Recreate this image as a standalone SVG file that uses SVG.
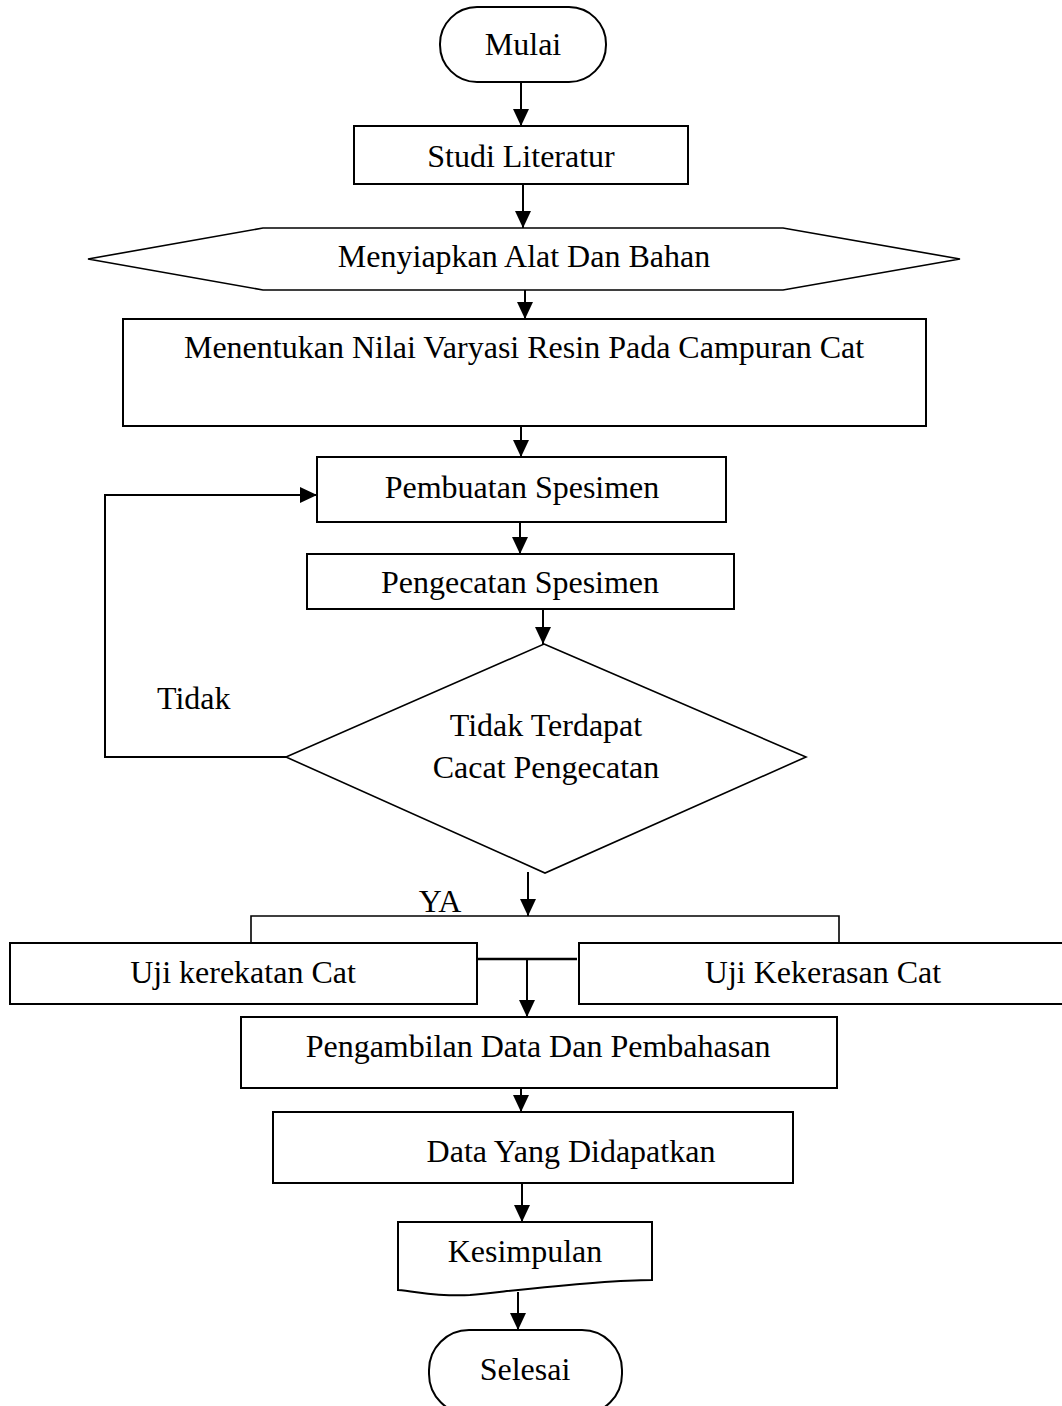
<svg xmlns="http://www.w3.org/2000/svg" width="1062" height="1406" viewBox="0 0 1062 1406">
<style>
.s{fill:#fff;stroke:#000;stroke-width:2}
.t{fill:#fff;stroke:#000;stroke-width:1.6}
.c{fill:none;stroke:#000;stroke-width:2}
text{font-family:"Liberation Serif","Times New Roman",serif;font-size:32px;fill:#000}
.m{text-anchor:middle}
</style>
<defs>
<marker id="ah" markerUnits="userSpaceOnUse" markerWidth="17" markerHeight="16" refX="17" refY="8" orient="auto" viewBox="0 0 17 16">
<path d="M0,0 L17,8 L0,16 Z" fill="#000"/>
</marker>
</defs>
<rect width="1062" height="1406" fill="#fff"/>
<g id="connectors">
<line class="c" x1="521" y1="82" x2="521" y2="126" marker-end="url(#ah)"/>
<line class="c" x1="523" y1="184" x2="523" y2="228" marker-end="url(#ah)"/>
<line class="c" x1="525" y1="290" x2="525" y2="319" marker-end="url(#ah)"/>
<line class="c" x1="521" y1="426" x2="521" y2="457" marker-end="url(#ah)"/>
<line class="c" x1="520" y1="522" x2="520" y2="554" marker-end="url(#ah)"/>
<line class="c" x1="543" y1="609" x2="543" y2="644" marker-end="url(#ah)"/>
<polyline class="c" points="286,757 105,757 105,495 317,495" marker-end="url(#ah)"/>
<line class="c" x1="528" y1="872" x2="528" y2="916" marker-end="url(#ah)"/>
<polyline class="c" points="251,943 251,916 839,916 839,943" style="stroke-width:1.6"/>
<line class="c" x1="477" y1="959" x2="577" y2="959" style="stroke-width:2.5"/>
<line class="c" x1="527" y1="959" x2="527" y2="1017" marker-end="url(#ah)"/>
<line class="c" x1="521" y1="1088" x2="521" y2="1112" marker-end="url(#ah)"/>
<line class="c" x1="522" y1="1183" x2="522" y2="1222" marker-end="url(#ah)"/>
<line class="c" x1="518" y1="1292" x2="518" y2="1330" marker-end="url(#ah)"/>
<text x="157" y="709">Tidak</text>
<text x="440" y="912" class="m">YA</text>
</g>
<g id="mulai">
<rect class="s" x="440" y="7" width="166" height="75" rx="37" ry="37"/>
<text x="523" y="55" class="m">Mulai</text>
</g>
<g id="studi">
<rect class="s" x="354" y="126" width="334" height="58"/>
<text x="521" y="167" class="m">Studi Literatur</text>
</g>
<g id="menyiapkan">
<polygon class="t" points="88,259 263,228 783,228 960,259 783,290 263,290"/>
<text x="524" y="267" class="m">Menyiapkan Alat Dan Bahan</text>
</g>
<g id="menentukan">
<rect class="s" x="123" y="319" width="803" height="107"/>
<text x="524" y="358" class="m">Menentukan Nilai Varyasi Resin Pada Campuran Cat</text>
</g>
<g id="pembuatan">
<rect class="s" x="317" y="457" width="409" height="65"/>
<text x="522" y="498" class="m">Pembuatan Spesimen</text>
</g>
<g id="pengecatan">
<rect class="s" x="307" y="554" width="427" height="55"/>
<text x="520" y="593" class="m">Pengecatan Spesimen</text>
</g>
<g id="decision">
<polygon class="t" points="544,644 806,757 545,873 286,757"/>
<text x="546" y="736" class="m">Tidak Terdapat</text>
<text x="546" y="778" class="m">Cacat Pengecatan</text>
</g>
<g id="uji-kerekatan">
<rect class="s" x="10" y="943" width="467" height="61"/>
<text x="243" y="983" class="m">Uji kerekatan Cat</text>
</g>
<g id="uji-kekerasan">
<rect class="s" x="579" y="943" width="490" height="61"/>
<text x="823" y="983" class="m">Uji Kekerasan Cat</text>
</g>
<g id="pengambilan">
<rect class="s" x="241" y="1017" width="596" height="71"/>
<text x="538" y="1057" class="m">Pengambilan Data Dan Pembahasan</text>
</g>
<g id="data">
<rect class="s" x="273" y="1112" width="520" height="71"/>
<text x="571" y="1162" class="m">Data Yang Didapatkan</text>
</g>
<g id="kesimpulan">
<path class="s" d="M398,1222 L652,1222 L652,1280 C600,1280 520,1290 470,1295 C440,1297 420,1292 398,1290 Z"/>
<text x="525" y="1262" class="m">Kesimpulan</text>
</g>
<g id="selesai">
<rect class="s" x="429" y="1330" width="193" height="84" rx="40" ry="40"/>
<text x="525" y="1380" class="m">Selesai</text>
</g>
</svg>
